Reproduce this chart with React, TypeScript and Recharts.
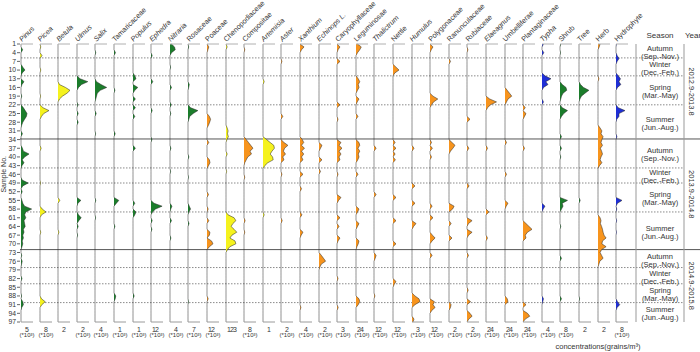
import React from 'react';
import { AreaChart, Area, ComposedChart, Line, XAxis, YAxis, ReferenceLine } from 'recharts';

const W = 700;
const H = 352;
const TOP = 44;
const AXIS_H = 30;
const PLOT_H = H - TOP - AXIS_H;
const SAMPLE_AXIS_W = 20;
const X0 = 21;
const STEP = 18.6;
const PANEL_W = 30;
const PANEL_PAD_L = 8;
const PANEL_PLOT_W = 12;
const SEASON_X = 636;
const YEAR_X = 684;
const FONT = '"Liberation Sans", Arial, sans-serif';

const GREEN = '#1b7d2b';
const YELLOW = '#f5f21e';
const ORANGE = '#f7941d';
const BLUE = '#1f2fd6';

const N_SAMPLES = 97;
const SAMPLE_TICKS = [1, 4, 7, 10, 13, 16, 19, 22, 25, 28, 31, 34, 37, 40, 43, 46, 49, 52, 55, 58, 61, 64, 67, 70, 73, 76, 79, 82, 85, 88, 91, 94, 97];

// [sample no., concentration in the panel's axis units]; samples not listed are 0
const PINUS = [[3, 1.4], [9, 1.5], [10, 3.3], [11, 1], [14, 2.5], [15, 0.8], [19, 0.6], [23, 2], [24, 3.5], [25, 5], [26, 4.5], [27, 3], [28, 1.5], [29, 0.6], [32, 1.2], [37, 1.2], [38, 2], [39, 6.7], [40, 3], [41, 1], [42, 2.5], [43, 0.8], [48, 1], [49, 6], [50, 1.5], [52, 1], [55, 0.8], [56, 1.5], [57, 3], [58, 8.9], [59, 4], [60, 3], [61, 4], [62, 2.5], [63, 3], [64, 3.5], [65, 2], [66, 2.5], [67, 1.5], [68, 2], [69, 1], [70, 1.5], [71, 0.8], [74, 0.6], [76, 1], [77, 0.5], [82, 0.8], [88, 0.5], [90, 1.5], [91, 2], [92, 0.6]];
const PICEA = [[2, 1], [5, 2.7], [10, 1], [19, 0.8], [23, 4], [24, 12], [25, 5], [26, 2], [37, 1.5], [49, 0.8], [58, 3], [59, 8], [60, 2], [66, 1], [89, 2], [90, 7], [91, 2.5]];
const BETULA = [[15, 0.5], [16, 2.5], [17, 4], [18, 3], [19, 1.5], [20, 0.5], [55, 0.6], [66, 0.3]];
const ULMUS = [[13, 1], [14, 3.6], [15, 1.5], [16, 0.5], [22, 0.3], [25, 0.4], [28, 0.4], [55, 1.3], [56, 0.3], [60, 0.5], [61, 1.4], [62, 0.6], [64, 0.4], [67, 0.2]];
const SALIX = [[4, 0.5], [14, 1], [15, 4], [16, 7.8], [17, 3.5], [18, 1.5], [19, 1], [20, 0.5], [25, 0.8], [32, 0.4], [55, 0.5], [61, 0.4]];
const TAMARICACEAE = [[4, 0.25], [17, 0.15], [32, 0.2], [55, 0.8], [56, 0.4], [64, 0.15], [88, 0.3], [89, 0.2]];
const POPULUS = [[12, 0.3], [13, 0.5], [16, 0.8], [17, 0.3], [20, 0.4], [23, 0.4], [26, 0.3], [37, 0.4], [56, 0.3], [59, 0.5], [60, 0.3], [88, 0.2]];
const EPHEDRA = [[5, 0.4], [14, 0.6], [24, 0.4], [34, 0.3], [56, 1], [57, 3.7], [58, 1.5], [59, 0.5], [62, 0.4], [65, 0.3]];
const NITRARIA = [[1, 1], [2, 3], [3, 3.5], [4, 1], [9, 0.4], [16, 1], [22, 0.8], [25, 0.5], [37, 0.6], [45, 0.4], [57, 1.3], [58, 0.5], [62, 1], [68, 0.6]];
const ROSACEAE = [[2, 0.8], [15, 1.5], [16, 0.8], [23, 3], [24, 11.5], [25, 6], [26, 2], [27, 1], [40, 1], [47, 0.6], [57, 1.5], [58, 3], [59, 1], [63, 1.2], [90, 0.6]];
const POACEAE = [[2, 0.6], [3, 0.3], [26, 0.8], [27, 1.2], [28, 0.9], [29, 0.5], [35, 0.6], [41, 0.8], [42, 1], [43, 0.5], [53, 0.5], [58, 0.4], [62, 0.6], [66, 1], [67, 0.8], [69, 1.5], [70, 2], [71, 0.8], [89, 0.4]];
const CHENOPODIACEAE = [[2, 0.4], [30, 0.4], [31, 0.7], [32, 0.5], [33, 0.8], [34, 0.3], [39, 0.4], [45, 0.2], [60, 0.7], [61, 2.7], [62, 3.3], [63, 2.3], [64, 1.7], [65, 2.7], [66, 3.6], [67, 2], [68, 1.3], [69, 3], [70, 3.3], [71, 1.3], [72, 0.5]];
const COMPOSITAE = [[3, 1], [34, 3], [35, 6], [36, 9], [37, 12], [38, 8], [39, 10], [40, 5], [41, 3], [42, 1], [47, 1], [62, 1.5], [66, 1]];
const ARTEMISIA = [[14, 0.2], [34, 0.6], [35, 1.2], [36, 1.8], [37, 1.9], [38, 1.5], [39, 1.2], [40, 1.6], [41, 1.7], [42, 0.8], [43, 0.3], [60, 0.2]];
const ASTER = [[7, 0.3], [26, 0.6], [35, 1], [36, 2.3], [37, 1.2], [38, 0.8], [39, 1.5], [40, 0.6], [41, 1], [46, 0.3], [62, 0.4]];
const XANTHIUM = [[2, 2.7], [3, 1], [34, 1.5], [35, 2.5], [36, 1], [37, 3], [38, 1], [39, 2.5], [40, 1], [41, 2], [46, 2], [51, 1], [60, 1.3], [66, 2], [67, 0.8], [92, 0.6]];
const ECHINOPS = [[36, 1], [37, 0.5], [41, 1], [45, 0.5], [74, 0.8], [75, 1.5], [76, 2.2], [77, 0.8], [78, 0.3]];
const CARYOPHYLLACEAE = [[2, 1.5], [3, 0.5], [7, 1.5], [22, 1.5], [27, 0.5], [35, 2], [36, 1], [37, 2.5], [38, 1], [39, 2], [40, 1], [41, 1.5], [46, 0.5], [54, 2], [55, 0.8], [61, 1.5], [64, 1], [68, 1.5], [69, 0.5], [82, 0.5], [92, 0.6]];
const LEGUMINOSAE = [[1, 1], [2, 3.5], [3, 2.5], [4, 1], [13, 1.5], [14, 2.5], [15, 1.5], [16, 2], [17, 1], [20, 2], [21, 0.8], [26, 1.3], [35, 2], [36, 2.5], [37, 1.3], [38, 2.5], [39, 1.5], [40, 2], [41, 1.2], [46, 1.3], [58, 2], [59, 1], [63, 2], [64, 1], [69, 2], [70, 1.5], [71, 0.6], [89, 2], [90, 2.5], [91, 1.5]];
const THALICTRUM = [[37, 0.7], [53, 0.7], [74, 0.7], [75, 0.4], [88, 0.3]];
const NETTLE = [[9, 1], [10, 2], [11, 0.6], [35, 0.7], [37, 1], [39, 0.7], [41, 0.8], [54, 1], [62, 1], [70, 1], [83, 1], [84, 0.4]];
const HUMULUS = [[37, 1], [50, 1.5], [56, 1.5], [63, 2], [64, 0.8], [88, 1.5], [89, 3.5], [90, 4], [91, 1.5], [96, 1], [97, 0.5]];
const POLYGONACEAE = [[2, 1], [3, 0.4], [19, 1], [20, 2.6], [21, 1.2], [22, 0.5], [35, 0.5], [37, 0.8], [40, 0.5], [57, 0.7], [61, 1], [67, 0.8], [68, 1.7], [69, 0.7], [74, 0.7], [90, 1.5], [91, 1], [92, 1.7], [93, 0.6]];
const RANUNCULACEAE = [[7, 0.5], [35, 1], [36, 2], [37, 1.3], [38, 0.5], [57, 1.7], [58, 1.2], [63, 0.7], [68, 1], [91, 0.7], [92, 0.5]];
const RUBIACEAE = [[3, 0.3], [27, 1], [37, 0.6], [50, 0.7], [62, 1.7], [63, 0.5], [66, 1.7], [67, 0.5], [74, 0.5], [86, 0.4], [90, 1.2], [94, 1], [95, 1.7], [96, 0.6]];
const ELAEAGNUS = [[20, 2.5], [21, 7], [22, 3], [23, 1], [37, 1], [59, 2], [68, 1]];
const UMBELLIFERAE = [[17, 1.5], [18, 3], [19, 4.5], [20, 2], [21, 1], [35, 1], [46, 1], [56, 2], [57, 0.8], [89, 1.5], [90, 2]];
const PLANTAGINACEAE = [[23, 1.5], [25, 2], [26, 1], [37, 1], [63, 2], [64, 4], [65, 6], [66, 3], [67, 1.5], [68, 2], [91, 2], [94, 3], [95, 4.5], [96, 1.5]];
const TYPHA = [[1, 1], [4, 1.2], [12, 2], [13, 6], [14, 2.5], [15, 4], [16, 1], [21, 1], [57, 2], [58, 0.8], [89, 1], [90, 0.5]];
const SHRUB = [[1, 1], [4, 0.7], [15, 3], [16, 8], [17, 9], [18, 4], [19, 2], [20, 1], [23, 3], [24, 10], [25, 5], [26, 2], [33, 2], [37, 2], [40, 1], [55, 10], [56, 3], [57, 4], [58, 2], [64, 1], [75, 2], [89, 2]];
const TREE = [[15, 0.5], [16, 1.5], [17, 3.3], [18, 2], [19, 0.8], [20, 0.3], [55, 0.4], [89, 0.2]];
const HERB = [[1, 0.7], [2, 0.4], [13, 0.3], [30, 0.7], [31, 1.3], [32, 1], [33, 1.7], [34, 1.3], [35, 1], [36, 1.5], [37, 0.8], [38, 1.2], [39, 1.5], [40, 1], [41, 0.7], [42, 1.3], [43, 0.5], [61, 0.7], [62, 1], [63, 0.8], [64, 1.2], [65, 1.5], [66, 1.7], [67, 2], [68, 2.7], [69, 1.5], [70, 1.3], [71, 2.7], [72, 1.2], [73, 0.7], [74, 1.2], [75, 1.7], [76, 0.6], [77, 0.3]];
const HYDROPHYTE = [[1, 0.5], [5, 1.5], [6, 4], [7, 1.5], [12, 3], [13, 6], [14, 4], [15, 6.5], [16, 2], [23, 3], [24, 12], [25, 4], [26, 4], [27, 1], [33, 1.2], [55, 8], [56, 2], [58, 1], [62, 0.8], [66, 0.6], [90, 2], [91, 5], [92, 1.5]];

const TAXA = [
  { key: 'pinus', name: 'Pinus', italic: true, color: GREEN, ticks: [5], max: 10, x1000: true, values: PINUS },
  { key: 'picea', name: 'Picea', italic: true, color: YELLOW, ticks: [8], max: 16, x1000: true, values: PICEA },
  { key: 'betula', name: 'Betula', italic: true, color: YELLOW, ticks: [2], max: 4, x1000: false, values: BETULA },
  { key: 'ulmus', name: 'Ulmus', italic: true, color: GREEN, ticks: [2], max: 4, x1000: true, values: ULMUS },
  { key: 'salix', name: 'Salix', italic: true, color: GREEN, ticks: [4], max: 8, x1000: true, values: SALIX },
  { key: 'tamaricaceae', name: 'Tamaricaceae', italic: false, color: GREEN, ticks: [1], max: 2, x1000: true, values: TAMARICACEAE },
  { key: 'populus', name: 'Populus', italic: true, color: GREEN, ticks: [1], max: 2, x1000: true, values: POPULUS },
  { key: 'ephedra', name: 'Ephedra', italic: true, color: GREEN, ticks: [1, 2], max: 4, x1000: true, values: EPHEDRA },
  { key: 'nitraria', name: 'Nitraria', italic: true, color: GREEN, ticks: [4], max: 8, x1000: true, values: NITRARIA },
  { key: 'rosaceae', name: 'Rosaceae', italic: false, color: GREEN, ticks: [7], max: 14, x1000: true, values: ROSACEAE },
  { key: 'poaceae', name: 'Poaceae', italic: false, color: ORANGE, ticks: [1, 2], max: 4, x1000: true, values: POACEAE },
  { key: 'chenopodiaceae', name: 'Chenopodiaceae', italic: false, color: YELLOW, ticks: [1, 2, 3], max: 4, x1000: false, values: CHENOPODIACEAE },
  { key: 'compositae', name: 'Compositae', italic: false, color: ORANGE, ticks: [8], max: 16, x1000: true, values: COMPOSITAE },
  { key: 'artemisia', name: 'Artemisia', italic: true, color: YELLOW, ticks: [1], max: 2, x1000: false, values: ARTEMISIA },
  { key: 'aster', name: 'Aster', italic: true, color: ORANGE, ticks: [2], max: 4, x1000: true, values: ASTER },
  { key: 'xanthium', name: 'Xanthium', italic: true, color: ORANGE, ticks: [4], max: 8, x1000: true, values: XANTHIUM },
  { key: 'echinops', name: 'Echinops L.', italic: true, color: ORANGE, ticks: [2], max: 4, x1000: true, values: ECHINOPS },
  { key: 'caryophyllaceae', name: 'Caryophyllaceae', italic: false, color: ORANGE, ticks: [3], max: 6, x1000: true, values: CARYOPHYLLACEAE },
  { key: 'leguminosae', name: 'Leguminosae', italic: false, color: ORANGE, ticks: [2, 4], max: 8, x1000: true, values: LEGUMINOSAE },
  { key: 'thalictrum', name: 'Thalictrum', italic: true, color: ORANGE, ticks: [1, 2], max: 4, x1000: true, values: THALICTRUM },
  { key: 'nettle', name: 'Nettle', italic: false, color: ORANGE, ticks: [1, 2], max: 4, x1000: true, values: NETTLE },
  { key: 'humulus', name: 'Humulus', italic: true, color: ORANGE, ticks: [3], max: 6, x1000: true, values: HUMULUS },
  { key: 'polygonaceae', name: 'Polygonaceae', italic: false, color: ORANGE, ticks: [1, 2], max: 4, x1000: true, values: POLYGONACEAE },
  { key: 'ranunculaceae', name: 'Ranunculaceae', italic: false, color: ORANGE, ticks: [2], max: 4, x1000: true, values: RANUNCULACEAE },
  { key: 'rubiaceae', name: 'Rubiaceae', italic: false, color: ORANGE, ticks: [2], max: 4, x1000: true, values: RUBIACEAE },
  { key: 'elaeagnus', name: 'Elaeagnus', italic: true, color: ORANGE, ticks: [2, 4], max: 8, x1000: true, values: ELAEAGNUS },
  { key: 'umbelliferae', name: 'Umbelliferae', italic: false, color: ORANGE, ticks: [2, 4], max: 8, x1000: true, values: UMBELLIFERAE },
  { key: 'plantaginaceae', name: 'Plantaginaceae', italic: false, color: ORANGE, ticks: [2, 4], max: 8, x1000: true, values: PLANTAGINACEAE },
  { key: 'typha', name: 'Typha', italic: true, color: BLUE, ticks: [4], max: 8, x1000: true, values: TYPHA },
  { key: 'shrub', name: 'Shrub', italic: false, color: GREEN, ticks: [8], max: 16, x1000: true, values: SHRUB },
  { key: 'tree', name: 'Tree', italic: false, color: GREEN, ticks: [2], max: 4, x1000: false, values: TREE },
  { key: 'herb', name: 'Herb', italic: false, color: ORANGE, ticks: [2], max: 4, x1000: false, values: HERB },
  { key: 'hydrophyte', name: 'Hydrophyte', italic: false, color: BLUE, ticks: [8], max: 16, x1000: true, values: HYDROPHYTE },
];

// season / year boundaries in sample units
const SEASON_LINES = [5.8, 12, 22, 43.8, 49, 59, 78.2, 83.8, 90.3];
const YEAR_LINES = [33.8, 72];
const SEASONS = [
  ['Autumn', '(Sep.-Nov.)', 1, 5.8],
  ['Winter', '(Dec.-Feb.)', 5.8, 12],
  ['Spring', '(Mar.-May)', 12, 22],
  ['Summer', '(Jun.-Aug.)', 22, 33.8],
  ['Autumn', '(Sep.-Nov.)', 33.8, 43.8],
  ['Winter', '(Dec.-Feb.)', 43.8, 49],
  ['Spring', '(Mar.-May)', 49, 59],
  ['Summer', '(Jun.-Aug.)', 59, 72],
  ['Autumn', '(Sep.-Nov.)', 72, 78.2],
  ['Winter', '(Dec.-Feb.)', 78.2, 83.8],
  ['Spring', '(Mar.-May)', 83.8, 90.3],
  ['Summer', '(Jun.-Aug.)', 90.3, 97],
];
const YEARS = [
  ['2012.9-2013.8', 1, 33.8],
  ['2013.9-2014.8', 33.8, 72],
  ['2014.9-2015.8', 72, 97],
];

const ROWS = Array.from({ length: N_SAMPLES }, (_, i) => {
  const row: Record<string, number> = { s: i + 1 };
  TAXA.forEach((t) => { row[t.key] = 0; });
  return row;
});
TAXA.forEach((t) => t.values.forEach(([s, v]) => { ROWS[s - 1][t.key] = v; }));

const yOf = (s: number) => TOP + ((s - 1) / (N_SAMPLES - 1)) * PLOT_H;
const panelX = (i: number) => X0 + i * STEP;

function TaxonPanel({ taxon, index }: { taxon: typeof TAXA[number]; index: number }) {
  return (
    <div style={{ position: 'absolute', left: panelX(index) - PANEL_PAD_L, top: 0 }}>
      <AreaChart
        width={PANEL_W}
        height={H}
        data={ROWS}
        layout="vertical"
        margin={{ top: TOP, right: PANEL_W - PANEL_PAD_L - PANEL_PLOT_W, bottom: 0, left: PANEL_PAD_L }}
      >
        <XAxis
          type="number"
          domain={[0, taxon.max]}
          ticks={taxon.ticks}
          interval={0}
          height={AXIS_H}
          axisLine={{ stroke: '#9a9a9a' }}
          tickLine={false}
          tickSize={3}
          tickMargin={2}
          tick={{ fontSize: 7, fill: '#333', fontFamily: FONT }}
          label={taxon.x1000 ? { value: '(*10³)', position: 'insideBottom', offset: 15, fontSize: 6, fill: '#333', fontFamily: FONT } : undefined}
        />
        <YAxis
          type="number"
          dataKey="s"
          domain={[1, N_SAMPLES]}
          width={0}
          tick={false}
          tickLine={false}
          axisLine={{ stroke: '#9a9a9a', strokeWidth: 1.5 }}
        />
        <ReferenceLine y={1} stroke="#b0b0b0" />
        <Area
          dataKey={taxon.key}
          type="linear"
          fill={taxon.color}
          fillOpacity={1}
          stroke="#222"
          strokeWidth={0.5}
          dot={false}
          activeDot={false}
          isAnimationActive={false}
        />
      </AreaChart>
    </div>
  );
}

export default function App() {
  return (
    <div style={{ position: 'absolute', left: 0, top: 0, width: W, height: H, background: '#fff', fontFamily: FONT }}>
      {/* grid: sample axis, season / year separators */}
      <div style={{ position: 'absolute', left: 0, top: 0 }}>
        <ComposedChart width={W} height={H} data={ROWS} margin={{ top: TOP, right: 0, bottom: AXIS_H, left: 0 }}>
          <XAxis type="number" dataKey="s" domain={[SAMPLE_AXIS_W, W]} allowDataOverflow hide />
          <YAxis
            type="number"
            domain={[1, N_SAMPLES]}
            reversed
            allowDataOverflow
            ticks={SAMPLE_TICKS}
            interval={0}
            width={SAMPLE_AXIS_W}
            axisLine={false}
            tickSize={3}
            tickMargin={1}
            tickLine={{ stroke: '#666' }}
            tick={{ fontSize: 6.8, fill: '#333', fontFamily: FONT }}
          />
          <Line dataKey="s" stroke="none" dot={false} activeDot={false} legendType="none" isAnimationActive={false} />
          {SEASON_LINES.map((s) => (
            <ReferenceLine key={`sl${s}`} segment={[{ x: X0, y: s }, { x: YEAR_X, y: s }]} stroke="#8a8a8a" strokeDasharray="1.5 1.5" />
          ))}
          {YEAR_LINES.map((s) => (
            <ReferenceLine key={`yl${s}`} y={s} stroke="#555" />
          ))}
          <ReferenceLine segment={[{ x: SEASON_X, y: 1 }, { x: SEASON_X, y: N_SAMPLES }]} stroke="#999" />
          <ReferenceLine segment={[{ x: YEAR_X, y: 1 }, { x: YEAR_X, y: N_SAMPLES }]} stroke="#999" />
        </ComposedChart>
      </div>

      {TAXA.map((t, i) => (
        <TaxonPanel key={t.key} taxon={t} index={i} />
      ))}

      {/* headers and annotations */}
      <svg width={W} height={H} style={{ position: 'absolute', left: 0, top: 0, pointerEvents: 'none' }} fontFamily={FONT}>
        {TAXA.map((t, i) => {
          const x = panelX(i) + 1;
          return (
            <text key={t.key} x={x} y={42} fontSize={7.2} fill="#333" fontStyle={t.italic ? 'italic' : 'normal'} transform={`rotate(-45 ${x} 42)`}>
              {t.name}
            </text>
          );
        })}
        <text x={(SEASON_X + YEAR_X) / 2} y={38} fontSize={8} fill="#333" textAnchor="middle">Season</text>
        <text x={(YEAR_X + W) / 2 + 1} y={38} fontSize={8} fill="#333" textAnchor="middle">Year</text>
        {SEASONS.map(([name, months, a, b], i) => {
          const mid = yOf(((a as number) + (b as number)) / 2);
          return (
            <g key={i} fontSize={7.5} fill="#333" textAnchor="middle">
              <text x={(SEASON_X + YEAR_X) / 2} y={mid}>{name}</text>
              <text x={(SEASON_X + YEAR_X) / 2} y={mid + 8}>{months}</text>
            </g>
          );
        })}
        {YEARS.map(([label, a, b]) => {
          const mid = yOf(((a as number) + (b as number)) / 2);
          const x = 689;
          return (
            <text key={label as string} x={x} y={mid} fontSize={7.5} fill="#333" textAnchor="middle" transform={`rotate(90 ${x} ${mid})`}>
              {label}
            </text>
          );
        })}
        <text x={6} y={yOf(46)} fontSize={7} fill="#333" textAnchor="middle" transform={`rotate(-90 6 ${yOf(46)})`}>Sample No.</text>
        <text x={598} y={349} fontSize={7.5} fill="#333" textAnchor="middle">concentrations(grains/m³)</text>
      </svg>
    </div>
  );
}
